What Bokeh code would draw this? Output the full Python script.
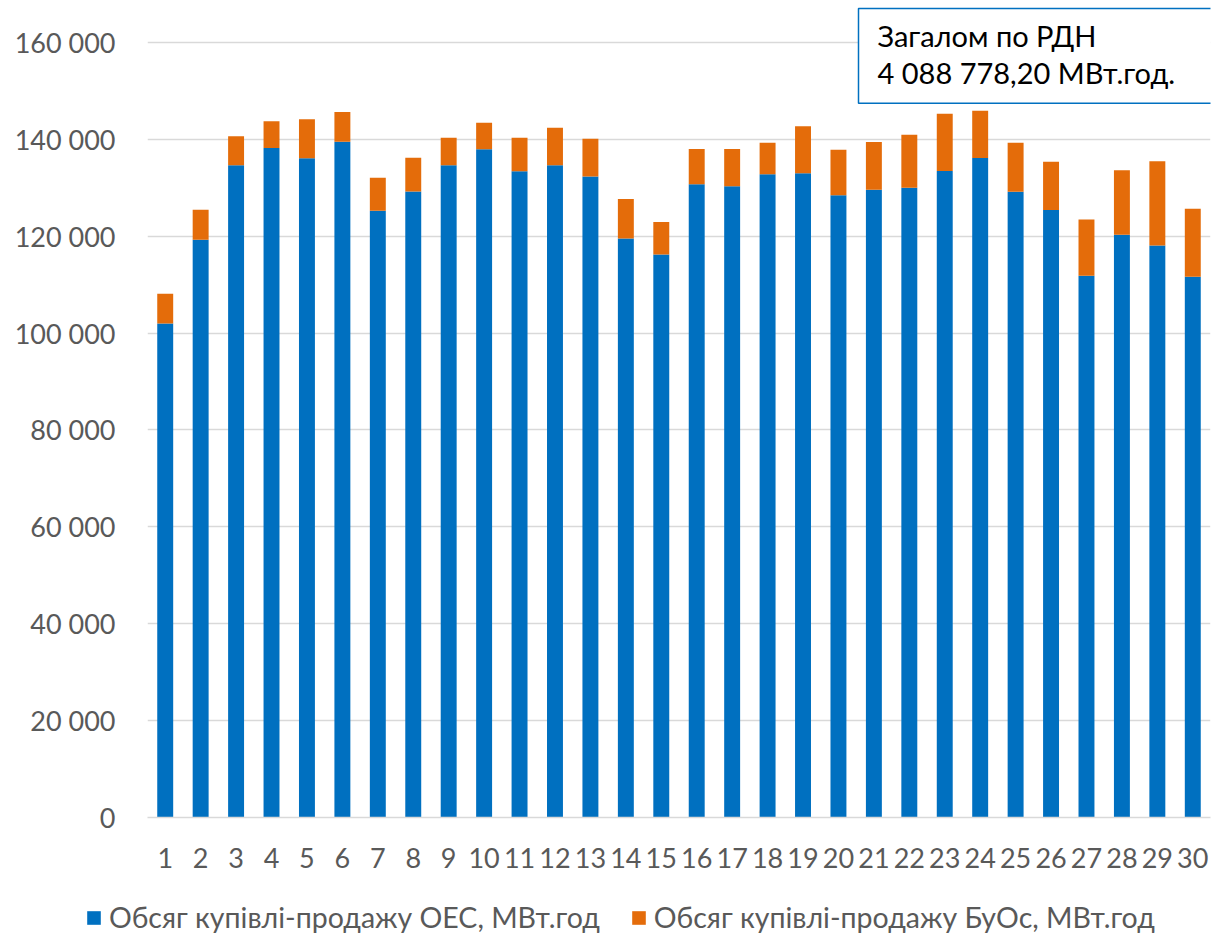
from bokeh.plotting import figure
from bokeh.models import (FactorRange, Range1d, FixedTicker, CustomJSTickFormatter,
                          Legend, LegendItem, Label, ColumnDataSource)
from bokeh.embed import file_html
from bokeh.resources import INLINE

days = ["1", "2", "3", "4", "5", "6", "7", "8", "9", "10",
        "11", "12", "13", "14", "15", "16", "17", "18", "19", "20",
        "21", "22", "23", "24", "25", "26", "27", "28", "29", "30"]
oes = [101990, 119280, 134640, 138220, 136080, 139530, 125270, 129260, 134640, 137940,
       133400, 134640, 132360, 119550, 116250, 130710, 130300, 132780, 132980, 128440,
       129610, 130020, 133470, 136150, 129200, 125410, 111840, 120310, 118110, 111630]
buos = [6130, 6200, 5990, 5510, 8060, 6120, 6820, 6960, 5710, 5510,
        6950, 7780, 7790, 8130, 6680, 7300, 7710, 6540, 9710, 9430,
        9850, 10950, 11840, 9780, 10120, 9980, 11640, 13290, 17350, 14050]
series_labels = ["Обсяг купівлі-продажу ОЕС, МВт.год", "Обсяг купівлі-продажу БуОс, МВт.год"]
series_colors = ["#0070C0", "#E46C0A"]
y_ticks = [0, 20000, 40000, 60000, 80000, 100000, 120000, 140000, 160000]
y_top = 168670  # headroom above the 160 000 line
note_text = "Загалом по РДН\n4 088 778,20 МВт.год."

FONT = "Lato"
GREY = "#595959"

src = ColumnDataSource(dict(day=days, oes=oes, buos=buos))

p = figure(x_range=FactorRange(*days), y_range=Range1d(0, y_top),
           width=1211, height=880, output_backend="svg", toolbar_location=None,
           min_border_left=147, min_border_right=1, min_border_top=0, min_border_bottom=63)
p.outline_line_color = None
p.background_fill_color = "white"

rs = p.vbar_stack(["oes", "buos"], x="day", width=0.45, source=src,
                  color=series_colors, line_color=None)

# axes
p.yaxis.ticker = FixedTicker(ticks=y_ticks)
p.yaxis.formatter = CustomJSTickFormatter(code="""
    return String(tick).replace(/\\B(?=(\\d{3})+(?!\\d))/g, ' ');
""")
for ax in (p.xaxis[0], p.yaxis[0]):
    ax.major_label_text_font = FONT
    ax.major_label_text_font_size = "27px"
    ax.major_label_text_color = GREY
    ax.major_tick_line_color = None
    ax.minor_tick_line_color = None
    ax.major_tick_in = 0
    ax.major_tick_out = 0
p.yaxis.axis_line_color = None
p.yaxis.major_label_standoff = 32
p.xaxis.axis_line_color = "#D9D9D9"
p.xaxis.axis_line_width = 1.5
p.xaxis.major_label_standoff = 30
p.xgrid.grid_line_color = None
p.ygrid.grid_line_color = "#D9D9D9"
p.ygrid.grid_line_width = 1.5

note = Label(x=711, y=809, x_units="screen", y_units="screen", text=note_text,
             text_font=FONT, text_font_size="29px", text_line_height=1.08,
             text_color="black", text_align="left", text_baseline="top",
             border_line_color="#0070C0", border_line_width=1.5,
             background_fill_color="white", padding=(19, 60, 9, 13))
p.add_layout(note)

# legend strip under the chart; its renderers are hidden, only the swatches show
lg = figure(x_range=FactorRange(*days), y_range=Range1d(0, y_top),
            width=1211, height=54, output_backend="svg", toolbar_location=None,
            x_axis_type=None, y_axis_type=None,
            min_border_left=0, min_border_right=0, min_border_top=0, min_border_bottom=0)
lg.outline_line_color = None
lg.grid.visible = False
sw = lg.vbar_stack(["oes", "buos"], x="day", width=0.45, source=src,
                   color=series_colors, line_color=None)
for r in sw:
    r.visible = False
legend = Legend(items=[LegendItem(label=series_labels[0], renderers=[sw[0]]),
                       LegendItem(label=series_labels[1], renderers=[sw[1]])],
                location=(85, 0), orientation="horizontal",
                glyph_width=17, glyph_height=17, label_standoff=7, spacing=30,
                padding=0, margin=0, border_line_color=None, background_fill_alpha=0,
                inactive_fill_alpha=0,
                label_text_font=FONT, label_text_font_size="28.5px", label_text_color=GREY)
lg.add_layout(legend)

open("out.html", "w").write(file_html([p, lg], INLINE))
